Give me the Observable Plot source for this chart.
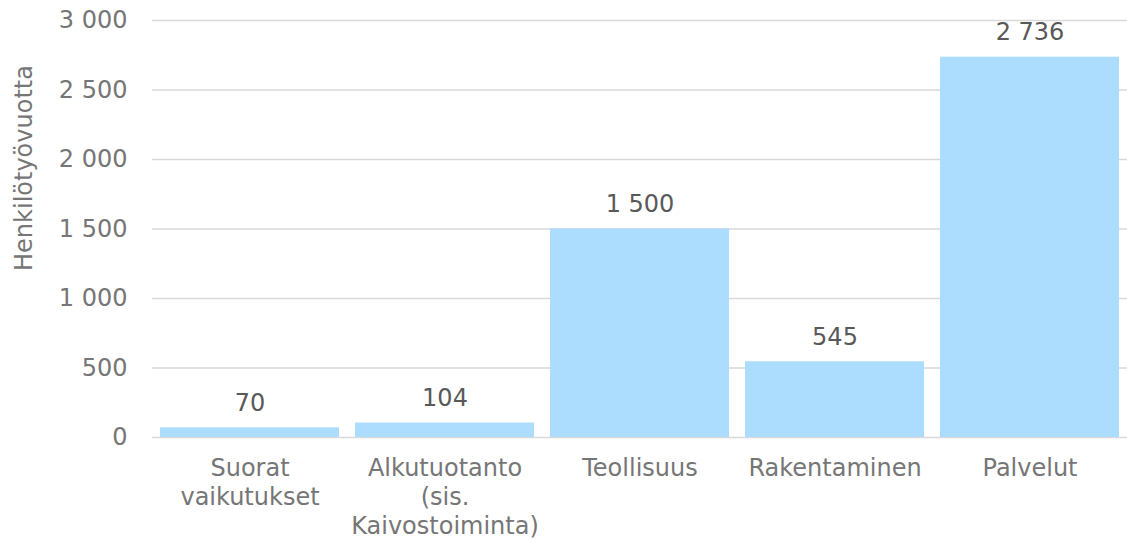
<!DOCTYPE html>
<html>
<head>
<meta charset="utf-8">
<script src="https://cdn.jsdelivr.net/npm/d3@7"></script>
<script src="https://cdn.jsdelivr.net/npm/@observablehq/plot@0.6"></script>
<style>
  html, body { margin: 0; padding: 0; background: #ffffff; }
  #chart svg { display: block; }
</style>
</head>
<body>
<div id="chart"></div>
<script>
const categories = ["Suorat\nvaikutukset", "Alkutuotanto\n(sis.\nKaivostoiminta)", "Teollisuus", "Rakentaminen", "Palvelut"];
const values = [70, 104, 1500, 545, 2736];
const yTicks = [0, 500, 1000, 1500, 2000, 2500, 3000];
const yTitle = "Henkilötyövuotta";

const data = categories.map((c, i) => ({cat: c, value: values[i]}));
const fmt = d3.formatLocale({decimal: ",", thousands: " ", grouping: [3], currency: ["", " €"]}).format(",");

const chart = Plot.plot({
  width: 1127,
  height: 540,
  marginLeft: 152,
  marginRight: 0,
  marginTop: 20,
  marginBottom: 103,
  style: {fontFamily: "'DejaVu Sans', Verdana, sans-serif", fontSize: "24px", background: "#ffffff"},
  x: {domain: categories, paddingInner: 0.08, paddingOuter: 0.04, label: null},
  y: {domain: [0, 3000], label: null},
  marks: [
    Plot.gridY(yTicks, {stroke: "#d9d9d9", strokeOpacity: 1, strokeWidth: 1.5}),
    Plot.barY(data, {x: "cat", y: "value", fill: "#acdcfe"}),
    Plot.text(data, {x: "cat", y: "value", text: d => fmt(d.value), lineAnchor: "bottom", dy: -17, fill: "#595959", fontSize: 24}),
    Plot.axisY(yTicks, {tickSize: 0, tickPadding: 25, tickFormat: fmt, fill: "#767676", fontSize: 24, label: null}),
    Plot.axisX({tickSize: 0, tickPadding: 18, lineHeight: 1.2, fill: "#767676", fontSize: 24, label: null}),
    Plot.text([yTitle], {frameAnchor: "left", dx: -128, dy: -61, rotate: -90, textAnchor: "middle", lineAnchor: "middle", fill: "#767676", fontSize: 24})
  ]
});
document.getElementById("chart").appendChild(chart);
</script>
</body>
</html>
